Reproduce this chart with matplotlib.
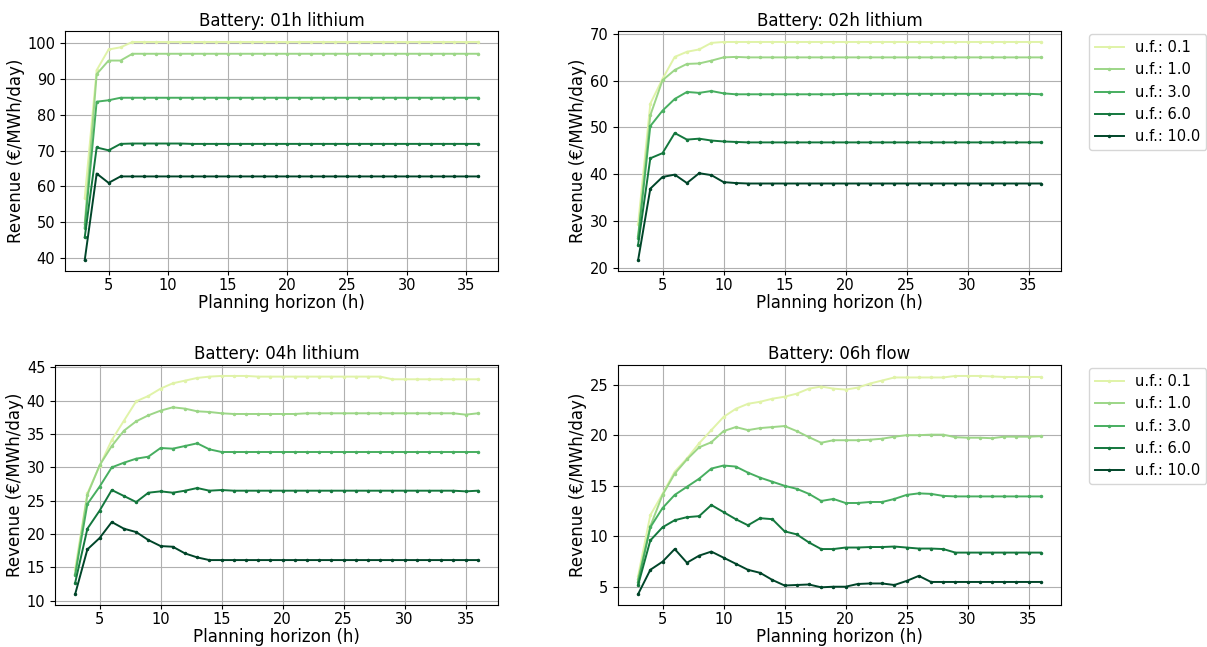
import numpy as np
import matplotlib
matplotlib.use("Agg")
import matplotlib.pyplot as plt
from matplotlib.ticker import MultipleLocator

# Planning horizon (h)
horizon = list(range(3, 37))

uf_labels = ["u.f.: 0.1", "u.f.: 1.0", "u.f.: 3.0", "u.f.: 6.0", "u.f.: 10.0"]
titles = ["Battery: 01h lithium", "Battery: 02h lithium",
          "Battery: 04h lithium", "Battery: 06h flow"]
ytick_steps = [10, 10, 5, 5]

# 01h lithium
h01_uf01 = [56.8, 92.5, 98.3, 98.9, 100.4, 100.4, 100.4, 100.4, 100.4, 100.4,
            100.4, 100.4, 100.4, 100.4, 100.4, 100.4, 100.4, 100.4, 100.4, 100.4,
            100.4, 100.4, 100.4, 100.4, 100.4, 100.4, 100.4, 100.4, 100.4, 100.4,
            100.4, 100.4, 100.4, 100.4]
h01_uf1 = [49.5, 91.4, 95.2, 95.2, 97.1, 97.1, 97.1, 97.1, 97.1, 97.1,
           97.1, 97.1, 97.1, 97.1, 97.1, 97.1, 97.1, 97.1, 97.1, 97.1,
           97.1, 97.1, 97.1, 97.1, 97.1, 97.1, 97.1, 97.1, 97.1, 97.1,
           97.1, 97.1, 97.1, 97.1]
h01_uf3 = [48.5, 83.7, 84.1, 84.8, 84.8, 84.8, 84.8, 84.8, 84.8, 84.8,
           84.8, 84.8, 84.8, 84.8, 84.8, 84.8, 84.8, 84.8, 84.8, 84.8,
           84.8, 84.8, 84.8, 84.8, 84.8, 84.8, 84.8, 84.8, 84.8, 84.8,
           84.8, 84.8, 84.8, 84.8]
h01_uf6 = [45.8, 70.9, 70.1, 71.9, 72.0, 72.0, 72.0, 72.0, 72.0, 71.9,
           71.9, 71.9, 71.9, 71.9, 71.9, 71.9, 71.9, 71.9, 71.9, 71.9,
           71.9, 71.9, 71.9, 71.9, 71.9, 71.9, 71.9, 71.9, 71.9, 71.9,
           71.9, 71.9, 71.9, 71.9]
h01_uf10 = [39.4, 63.6, 61.0, 62.8, 62.8, 62.8, 62.8, 62.8, 62.8, 62.8,
            62.8, 62.8, 62.8, 62.8, 62.8, 62.8, 62.8, 62.8, 62.8, 62.8,
            62.8, 62.8, 62.8, 62.8, 62.8, 62.8, 62.8, 62.8, 62.8, 62.8,
            62.8, 62.8, 62.8, 62.8]

# 02h lithium
h02_uf01 = [29.3, 55.1, 60.4, 65.1, 66.2, 66.7, 68.1, 68.3, 68.3, 68.3,
            68.3, 68.3, 68.3, 68.3, 68.3, 68.3, 68.3, 68.3, 68.3, 68.3,
            68.3, 68.3, 68.3, 68.3, 68.3, 68.3, 68.3, 68.3, 68.3, 68.3,
            68.3, 68.3, 68.3, 68.3]
h02_uf1 = [26.8, 52.6, 60.1, 62.3, 63.6, 63.7, 64.3, 65.0, 65.1, 65.0,
           65.0, 65.0, 65.0, 65.0, 65.0, 65.0, 65.0, 65.0, 65.0, 65.0,
           65.0, 65.0, 65.0, 65.0, 65.0, 65.0, 65.0, 65.0, 65.0, 65.0,
           65.0, 65.0, 65.0, 65.0]
h02_uf3 = [26.4, 50.3, 53.6, 56.1, 57.6, 57.4, 57.8, 57.3, 57.1, 57.1,
           57.1, 57.1, 57.1, 57.1, 57.1, 57.1, 57.1, 57.2, 57.2, 57.2,
           57.2, 57.2, 57.2, 57.2, 57.2, 57.2, 57.2, 57.2, 57.2, 57.2,
           57.2, 57.2, 57.2, 57.1]
h02_uf6 = [24.9, 43.4, 44.5, 48.8, 47.4, 47.6, 47.2, 47.0, 46.9, 46.8,
           46.8, 46.8, 46.8, 46.8, 46.8, 46.8, 46.8, 46.8, 46.8, 46.8,
           46.8, 46.8, 46.8, 46.8, 46.8, 46.8, 46.8, 46.8, 46.8, 46.8,
           46.8, 46.8, 46.8, 46.8]
h02_uf10 = [21.6, 36.9, 39.4, 39.9, 38.1, 40.2, 39.8, 38.3, 38.1, 38.0,
            38.0, 38.0, 38.0, 38.0, 38.0, 38.0, 38.0, 38.0, 38.0, 38.0,
            38.0, 38.0, 38.0, 38.0, 38.0, 38.0, 38.0, 38.0, 38.0, 38.0,
            38.0, 38.0, 38.0, 38.0]

# 04h lithium
h04_uf01 = [14.8, 26.1, 30.2, 34.1, 37.0, 39.9, 40.7, 41.8, 42.6, 43.0,
            43.4, 43.6, 43.7, 43.7, 43.7, 43.6, 43.6, 43.6, 43.6, 43.6,
            43.6, 43.6, 43.6, 43.6, 43.6, 43.6, 43.2, 43.2, 43.2, 43.2,
            43.2, 43.2, 43.2, 43.2]
h04_uf1 = [14.0, 25.9, 30.3, 33.2, 35.5, 36.9, 37.8, 38.5, 39.0, 38.8,
           38.4, 38.3, 38.1, 38.0, 38.0, 38.0, 38.0, 38.0, 38.0, 38.1,
           38.1, 38.1, 38.1, 38.1, 38.1, 38.1, 38.1, 38.1, 38.1, 38.1,
           38.1, 38.1, 37.9, 38.1]
h04_uf3 = [13.9, 24.5, 27.1, 30.0, 30.7, 31.3, 31.6, 32.9, 32.8, 33.2,
           33.6, 32.7, 32.3, 32.3, 32.3, 32.3, 32.3, 32.3, 32.3, 32.3,
           32.3, 32.3, 32.3, 32.3, 32.3, 32.3, 32.3, 32.3, 32.3, 32.3,
           32.3, 32.3, 32.3, 32.3]
h04_uf6 = [12.7, 20.8, 23.5, 26.6, 25.7, 24.8, 26.2, 26.4, 26.2, 26.5,
           26.9, 26.5, 26.6, 26.5, 26.5, 26.5, 26.5, 26.5, 26.5, 26.5,
           26.5, 26.5, 26.5, 26.5, 26.5, 26.5, 26.5, 26.5, 26.5, 26.5,
           26.5, 26.5, 26.4, 26.5]
h04_uf10 = [11.0, 17.7, 19.4, 21.8, 20.8, 20.3, 19.1, 18.2, 18.1, 17.1,
            16.5, 16.1, 16.1, 16.1, 16.1, 16.1, 16.1, 16.1, 16.1, 16.1,
            16.1, 16.1, 16.1, 16.1, 16.1, 16.1, 16.1, 16.1, 16.1, 16.1,
            16.1, 16.1, 16.1, 16.1]

# 06h flow
h06_uf01 = [6.1, 12.1, 14.2, 16.4, 17.7, 19.2, 20.5, 21.8, 22.6, 23.1,
            23.3, 23.6, 23.8, 24.1, 24.6, 24.8, 24.6, 24.5, 24.7, 25.1,
            25.4, 25.7, 25.7, 25.7, 25.7, 25.7, 25.85, 25.85, 25.85, 25.8,
            25.75, 25.75, 25.75, 25.75]
h06_uf1 = [5.8, 11.0, 14.1, 16.2, 17.6, 18.8, 19.3, 20.4, 20.8, 20.5,
           20.7, 20.8, 20.9, 20.4, 19.8, 19.25, 19.5, 19.5, 19.5, 19.55,
           19.65, 19.85, 20.0, 20.0, 20.05, 20.05, 19.8, 19.75, 19.75, 19.7,
           19.85, 19.85, 19.85, 19.9]
h06_uf3 = [5.5, 10.9, 12.8, 14.1, 14.9, 15.7, 16.7, 17.0, 16.9, 16.3,
           15.8, 15.4, 15.0, 14.7, 14.2, 13.5, 13.7, 13.3, 13.3, 13.4,
           13.4, 13.7, 14.1, 14.25, 14.2, 14.0, 13.95, 13.95, 13.95, 13.95,
           13.95, 13.95, 13.95, 13.95]
h06_uf6 = [5.2, 9.6, 10.9, 11.6, 11.9, 12.0, 13.1, 12.4, 11.7, 11.1,
           11.8, 11.7, 10.5, 10.2, 9.4, 8.75, 8.75, 8.9, 8.9, 8.95,
           8.95, 9.0, 8.9, 8.8, 8.8, 8.75, 8.4, 8.4, 8.4, 8.4,
           8.4, 8.4, 8.4, 8.4]
h06_uf10 = [4.3, 6.7, 7.5, 8.75, 7.4, 8.1, 8.5, 7.9, 7.3, 6.7,
            6.4, 5.7, 5.15, 5.2, 5.25, 4.97, 5.03, 5.03, 5.3, 5.35,
            5.35, 5.2, 5.6, 6.1, 5.5, 5.5, 5.5, 5.5, 5.5, 5.5,
            5.5, 5.5, 5.5, 5.5]

panels = [
    [h01_uf01, h01_uf1, h01_uf3, h01_uf6, h01_uf10],
    [h02_uf01, h02_uf1, h02_uf3, h02_uf6, h02_uf10],
    [h04_uf01, h04_uf1, h04_uf3, h04_uf6, h04_uf10],
    [h06_uf01, h06_uf1, h06_uf3, h06_uf6, h06_uf10],
]

colors = plt.get_cmap("YlGn")(np.linspace(0.22, 1.0, 5))

fig = plt.figure(figsize=(12.07, 6.47), dpi=100)

# axes boxes in figure fractions: left, bottom, width, height
boxes = [
    [0.0539, 0.5811, 0.3587, 0.3709],
    [0.5120, 0.5811, 0.3670, 0.3709],
    [0.0456, 0.0649, 0.3670, 0.3709],
    [0.5120, 0.0649, 0.3670, 0.3709],
]

for i, (series, title, box) in enumerate(zip(panels, titles, boxes)):
    ax = fig.add_axes(box)
    for s, lab, c in zip(series, uf_labels, colors):
        ax.plot(horizon, s, marker=".", markersize=3, lw=1.4, color=c, label=lab)
    ax.set_title(title, fontsize=12, pad=4)
    ax.set_xlabel("Planning horizon (h)", fontsize=12, labelpad=1)
    ax.set_ylabel("Revenue (€/MWh/day)", fontsize=12, labelpad=2)
    ax.yaxis.set_major_locator(MultipleLocator(ytick_steps[i]))
    ax.tick_params(labelsize=10.5)
    ax.tick_params(axis="x", length=3, pad=2)
    ax.grid(True)
    if i % 2 == 1:
        top = box[1] + box[3]
        ax.legend(loc="upper left", bbox_to_anchor=(0.902, top - 0.005),
                  bbox_transform=fig.transFigure, borderaxespad=0, fontsize=10.5)

fig.savefig("out.png", dpi=100)
